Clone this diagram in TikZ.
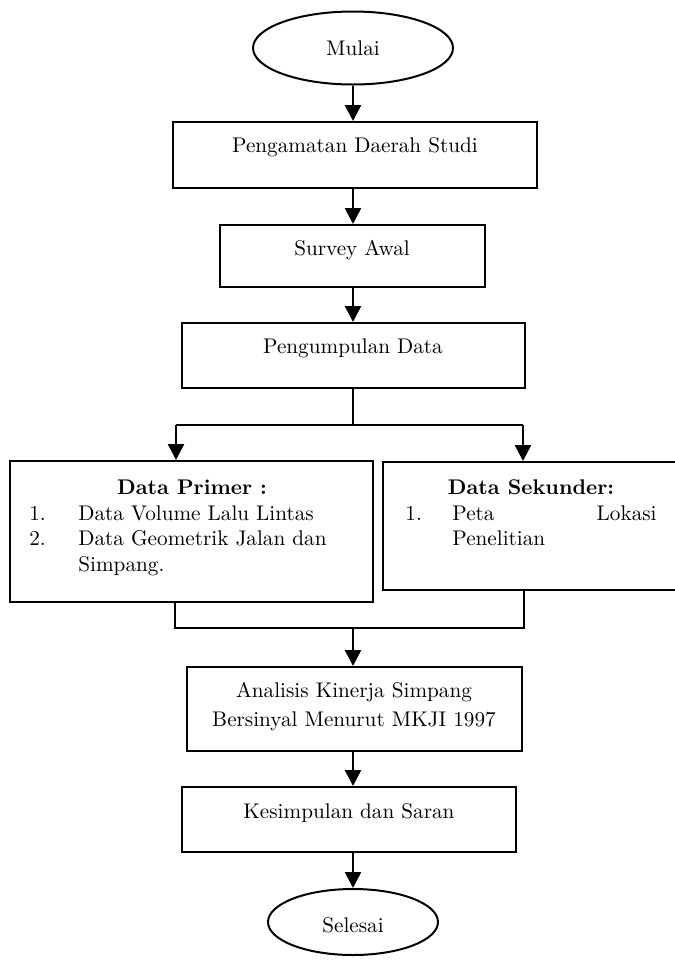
\documentclass[tikz,border=0pt]{standalone}
\usetikzlibrary{shapes.geometric,arrows.meta}
\begin{document}
\begin{tikzpicture}[x=0.5pt,y=-0.5pt,
  box/.style={draw,line width=1pt,inner sep=0pt},
  oval/.style={draw,ellipse,line width=1pt,inner sep=0pt},
  txt/.style={inner sep=0pt,font=\fontsize{10.6}{14.5}\selectfont,align=center},
  lst/.style={inner sep=0pt,font=\fontsize{10.6}{12.75}\selectfont},
  arr/.style={line width=1.3pt,-{Triangle[width=8pt,length=8pt]}},
  ln/.style={line width=0.9pt}]
\useasboundingbox (0,0) rectangle (675,960);
% shapes
\node[oval,minimum width=100pt,minimum height=36.5pt] (mulai) at (353,48) {};
\node[box,minimum width=182pt,minimum height=33pt] (b1) at (355,155) {};
\node[box,minimum width=132.5pt,minimum height=31pt] (b2) at (352.5,256) {};
\node[box,minimum width=171.5pt,minimum height=32.5pt] (b3) at (353.5,355.5) {};
\node[box,minimum width=181.5pt,minimum height=70.5pt] (prim) at (191.5,531.5) {};
\node[box,minimum width=158.5pt,minimum height=64pt] (sek) at (541.5,526) {};
\node[box,minimum width=167.5pt,minimum height=42pt] (ana) at (354.5,709) {};
\node[box,minimum width=167pt,minimum height=32.5pt] (kes) at (349,819.5) {};
\node[oval,minimum width=85pt,minimum height=33pt] (sel) at (353,922) {};
% texts
\node[txt] (tm) at (353,48) {Mulai};
\node[txt] (t1) at (355,147) {Pengamatan Daerah Studi};
\node[txt] (t2) at (352,250) {Survey Awal};
\node[txt] (t3) at (353,348) {Pengumpulan Data};
\node[txt] (ta) at (354,707) {Analisis Kinerja Simpang\\Bersinyal Menurut MKJI 1997};
\node[txt] (tk) at (349,813) {Kesimpulan dan Saran};
\node[txt] (ts) at (353,925) {Selesai};
\node[txt,font=\fontsize{10.6}{12.75}\selectfont\bfseries] (pt) at (192,487) {Data Primer :};
\node[lst,anchor=base west] (pn1) at (29,520) {1.};
\node[lst,anchor=base west] (pl1) at (78,520) {Data Volume Lalu Lintas};
\node[lst,anchor=base west] (pn2) at (29,545) {2.};
\node[lst,anchor=base west] (pl2) at (78,545) {Data Geometrik Jalan dan};
\node[lst,anchor=base west] (pl3) at (78,571) {Simpang.};
\node[txt,font=\fontsize{10.6}{12.75}\selectfont\bfseries] (st) at (531,487) {Data Sekunder:};
\node[lst,anchor=base west] (sn1) at (405,520) {1.};
\node[lst,anchor=base west] (sl1) at (452,520) {Peta};
\node[lst,anchor=base east] (sl1b) at (657,520) {Lokasi};
\node[lst,anchor=base west] (sl2) at (452,545) {Penelitian};
% connectors
\coordinate (s) at (353,425);
\coordinate (sl) at (176,425);
\coordinate (sr) at (523,425);
\coordinate (jl) at (175,628);
\coordinate (jr) at (524,628);
\coordinate (jm) at (353,628);
\draw[arr] (mulai.south) -- (mulai.south |- b1.north);
\draw[arr] (b1.south -| mulai) -- (mulai |- b2.north);
\draw[arr] (b2.south -| mulai) -- (mulai |- b3.north);
\draw[ln] (b3.south -| s) -- (s);
\draw[ln] (sl) -- (sr);
\draw[arr] (sl) -- (sl |- prim.north);
\draw[arr] (sr) -- (sr |- sek.north);
\draw[ln] (jl |- prim.south) -- (jl) -- (jr) -- (jr |- sek.south);
\draw[arr] (jm) -- (jm |- ana.north);
\draw[arr] (ana.south -| jm) -- (jm |- kes.north);
\draw[arr] (kes.south -| jm) -- (sel.north);
\end{tikzpicture}
\end{document}
